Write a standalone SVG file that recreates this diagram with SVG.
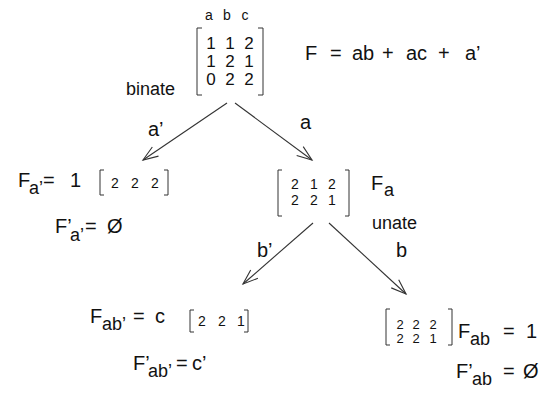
<svg xmlns="http://www.w3.org/2000/svg" width="557" height="406" viewBox="0 0 557 406">
<defs>
<style>
text{font-family:"Liberation Sans",Arial,sans-serif;fill:#111}
.lab{font-size:20px}
.sub{font-size:18px}
.sm{font-size:18px}
.hd{font-size:14px;text-anchor:middle}
.d1{font-size:17px;text-anchor:middle}
.d2{font-size:14px;text-anchor:middle}
.d3{font-size:13px;text-anchor:middle}
.br{fill:none;stroke:#333;stroke-width:1}
.ar{fill:none;stroke:#333;stroke-width:1.1;marker-end:url(#ah)}
</style>
<marker id="ah" markerUnits="userSpaceOnUse" markerWidth="20" markerHeight="14" refX="0" refY="0" viewBox="-16 -7 20 14" orient="auto" overflow="visible">
<path d="M-15,-5.5 L0,0 L-15,5.5" fill="none" stroke="#333" stroke-width="1.1"/>
</marker>
</defs>
<rect width="557" height="406" fill="#fff"/>

<g id="connectors">
<line class="ar" x1="227" y1="103" x2="143" y2="160"/>
<line class="ar" x1="235" y1="103" x2="312" y2="160"/>
<line class="ar" x1="313" y1="223" x2="243" y2="284"/>
<line class="ar" x1="329" y1="223" x2="406" y2="294"/>
<text class="lab" x="148" y="136">a’</text>
<text class="lab" x="300" y="129">a</text>
<text class="lab" x="257" y="257">b’</text>
<text class="lab" x="396" y="257">b</text>
</g>

<g id="root">
<text class="hd" x="209" y="20">a</text>
<text class="hd" x="227" y="20">b</text>
<text class="hd" x="245" y="20">c</text>
<polyline class="br" points="202,28 197,28 197,95 202,95"/>
<polyline class="br" points="258,28 263,28 263,95 258,95"/>
<text class="d1" x="211" y="49">1</text><text class="d1" x="230" y="49">1</text><text class="d1" x="249" y="49">2</text>
<text class="d1" x="211" y="67">1</text><text class="d1" x="230" y="67">2</text><text class="d1" x="249" y="67">1</text>
<text class="d1" x="211" y="85">0</text><text class="d1" x="230" y="85">2</text><text class="d1" x="249" y="85">2</text>
<text class="lab" y="60"><tspan x="305">F</tspan><tspan x="330">=</tspan><tspan x="352">ab</tspan><tspan x="382">+</tspan><tspan x="406">ac</tspan><tspan x="438">+</tspan><tspan x="465">a’</tspan></text>
<text class="sm" x="175" y="95" text-anchor="end">binate</text>
</g>

<g id="node-a-prime">
<text class="lab" y="187"><tspan x="18">F</tspan><tspan class="sub" x="29" dy="7">a’</tspan><tspan x="43" dy="-7">=</tspan><tspan x="70">1</tspan></text>
<polyline class="br" points="104,170 100,170 100,195 104,195"/>
<polyline class="br" points="164,170 168,170 168,195 164,195"/>
<text class="d2" x="115" y="188">2</text><text class="d2" x="135" y="188">2</text><text class="d2" x="155" y="188">2</text>
<text class="lab" y="233"><tspan x="55">F’</tspan><tspan class="sub" x="70" dy="8">a’</tspan><tspan x="85" dy="-8">=</tspan><tspan x="107">Ø</tspan></text>
</g>

<g id="node-a">
<polyline class="br" points="282,170 278,170 278,216 282,216"/>
<polyline class="br" points="345,170 349,170 349,216 345,216"/>
<text class="d2" x="295" y="189">2</text><text class="d2" x="314" y="189">1</text><text class="d2" x="332" y="189">2</text>
<text class="d2" x="295" y="205">2</text><text class="d2" x="314" y="205">2</text><text class="d2" x="332" y="205">1</text>
<text class="lab" y="190"><tspan x="371">F</tspan><tspan class="sub" x="384" dy="6">a</tspan></text>
<text class="sm" x="372" y="229">unate</text>
</g>

<g id="node-ab-prime">
<text class="lab" y="323"><tspan x="90">F</tspan><tspan class="sub" x="102" dy="7">ab’</tspan><tspan x="133" dy="-7">=</tspan><tspan x="155">c</tspan></text>
<polyline class="br" points="194,310 190,310 190,332 194,332"/>
<polyline class="br" points="244,310 248,310 248,332 244,332"/>
<text class="d2" x="202" y="326">2</text><text class="d2" x="222" y="326">2</text><text class="d2" x="241" y="326">1</text>
<text class="lab" y="370"><tspan x="133">F’</tspan><tspan class="sub" x="148" dy="7">ab’</tspan><tspan x="176" dy="-7">=</tspan><tspan x="192">c’</tspan></text>
</g>

<g id="node-ab">
<polyline class="br" points="390,309 386,309 386,345 390,345"/>
<polyline class="br" points="448,309 452,309 452,345 448,345"/>
<text class="d3" x="400" y="329">2</text><text class="d3" x="416" y="329">2</text><text class="d3" x="433" y="329">2</text>
<text class="d3" x="400" y="343">2</text><text class="d3" x="416" y="343">2</text><text class="d3" x="433" y="343">1</text>
<text class="lab" y="338"><tspan x="458">F</tspan><tspan class="sub" x="470" dy="7">ab</tspan><tspan x="503" dy="-7">=</tspan><tspan x="526">1</tspan></text>
<text class="lab" y="378"><tspan x="456">F’</tspan><tspan class="sub" x="472" dy="7">ab</tspan><tspan x="503" dy="-7">=</tspan><tspan x="523">Ø</tspan></text>
</g>
</svg>
